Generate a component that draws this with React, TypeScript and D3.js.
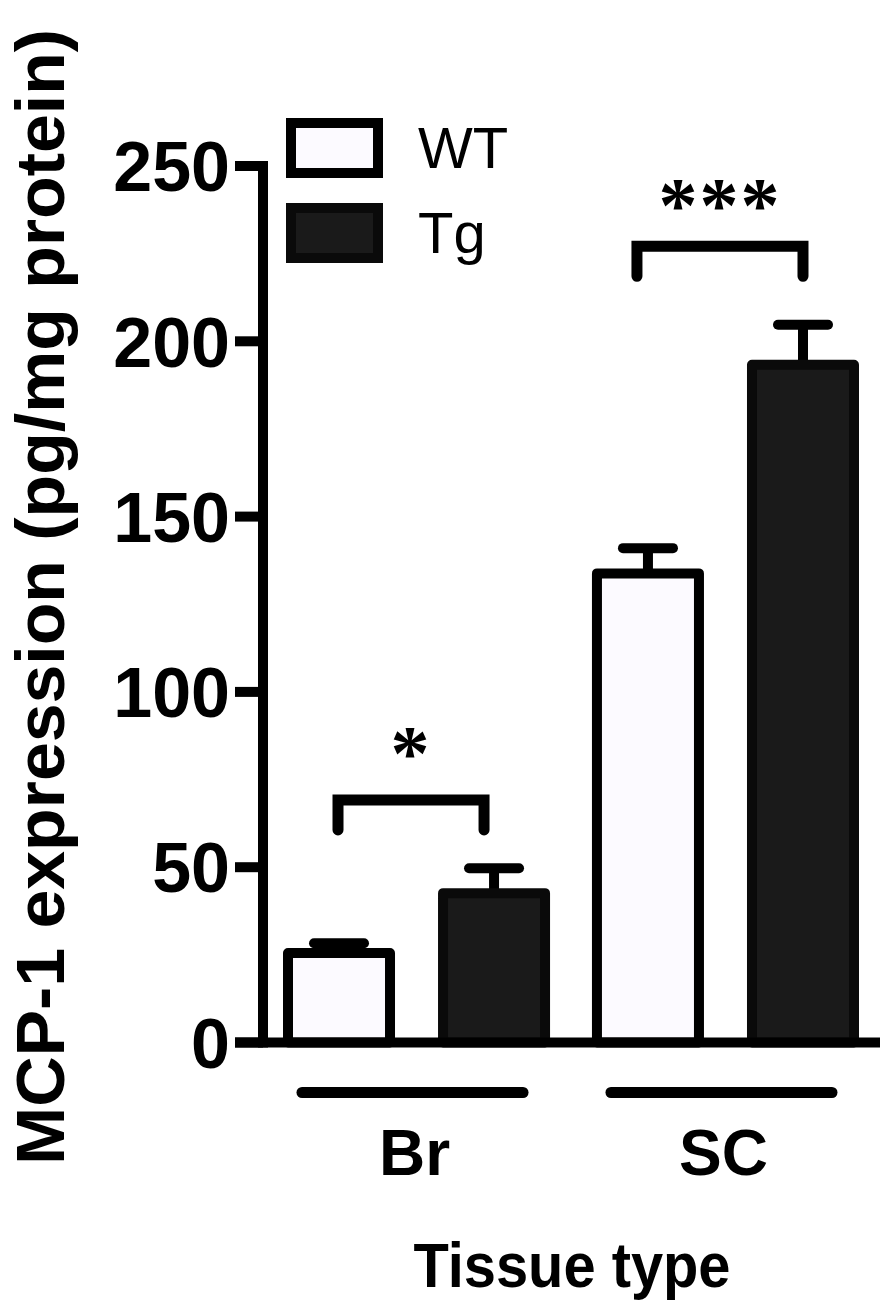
import { useEffect, useRef } from 'react';
import * as d3 from 'd3';

const categories = ['Br', 'SC'];
const groups = ['WT', 'Tg'];
const wtMeans = [25.5, 133.8];
const wtSem = [2.8, 7.2];
const tgMeans = [42.6, 193.3];
const tgSem = [7.1, 11.4];
const yTicks = [0, 50, 100, 150, 200, 250];
const sigLabels = ['*', '***'];
const bracketTop = [69.2, 227.1];
const starTop = [90.5, 247];

const W = 892;
const H = 1308;
const SW = 10;

const fills: Record<string, string> = { WT: '#fcfaff', Tg: '#1a1a1a' };
const strokes: Record<string, string> = { WT: '#000', Tg: '#0a0a0a' };

export default function App() {
  const svgRef = useRef<SVGSVGElement>(null);

  useEffect(() => {
    document.body.style.margin = '0';
    if (!svgRef.current) return;
    const svg = d3.select(svgRef.current);
    svg.selectAll('*').remove();

    const axisX = 263;
    const y = d3.scaleLinear().domain([0, 250]).range([1042.5, 166]);
    const x0 = d3.scaleBand<string>().domain(categories).range([288, 854]).paddingInner(0.168);
    const x1 = d3.scaleBand<string>().domain(groups).range([0, x0.bandwidth()]).paddingInner(0.342);

    const rows = categories.flatMap((c, i) => [
      { cat: c, grp: 'WT', mean: wtMeans[i], sem: wtSem[i] },
      { cat: c, grp: 'Tg', mean: tgMeans[i], sem: tgSem[i] },
    ]);
    const cx = (c: string, g: string) => x0(c)! + x1(g)! + x1.bandwidth() / 2;

    // error bars
    const err = svg.append('g').attr('stroke', '#000').attr('stroke-width', SW).attr('stroke-linecap', 'round');
    rows.forEach(d => {
      const x = cx(d.cat, d.grp);
      err.append('line').attr('x1', x).attr('x2', x).attr('y1', y(d.mean)).attr('y2', y(d.mean + d.sem)).attr('stroke-linecap', 'butt');
      err.append('line').attr('x1', x - 25).attr('x2', x + 25).attr('y1', y(d.mean + d.sem)).attr('y2', y(d.mean + d.sem));
    });

    // bars
    svg.append('g')
      .selectAll('rect')
      .data(rows)
      .enter()
      .append('rect')
      .attr('x', d => x0(d.cat)! + x1(d.grp)!)
      .attr('y', d => y(d.mean))
      .attr('width', x1.bandwidth())
      .attr('height', d => y(0) - y(d.mean))
      .attr('fill', d => fills[d.grp])
      .attr('stroke', d => strokes[d.grp])
      .attr('stroke-width', SW)
      .attr('stroke-linejoin', 'round');

    // axes
    const ax = svg.append('g').attr('stroke', '#000').attr('stroke-width', SW);
    ax.append('line').attr('x1', axisX).attr('x2', axisX).attr('y1', y(250) - SW / 2).attr('y2', y(0) + SW / 2);
    ax.append('line').attr('x1', 235).attr('x2', 880).attr('y1', y(0)).attr('y2', y(0));
    yTicks.forEach(t => {
      ax.append('line').attr('x1', 235).attr('x2', axisX).attr('y1', y(t)).attr('y2', y(t));
    });

    svg.append('g')
      .selectAll('text')
      .data(yTicks)
      .enter()
      .append('text')
      .attr('x', 230)
      .attr('y', d => y(d))
      .attr('dy', '0.36em')
      .attr('text-anchor', 'end')
      .attr('font-family', 'Liberation Sans, Arial, sans-serif')
      .attr('font-weight', 'bold')
      .attr('font-size', 70)
      .text(d => d);

    // y label
    svg.append('text')
      .attr('transform', 'translate(64,597) rotate(-90)')
      .attr('text-anchor', 'middle')
      .attr('font-family', 'Liberation Sans, Arial, sans-serif')
      .attr('font-weight', 'bold')
      .attr('font-size', 69)
      .attr('textLength', 1136)
      .attr('lengthAdjust', 'spacingAndGlyphs')
      .text('MCP-1 expression (pg/mg protein)');

    // category underlines + labels
    categories.forEach(c => {
      svg.append('line')
        .attr('x1', x0(c)! + 14).attr('x2', x0(c)! + x0.bandwidth() - 22)
        .attr('y1', 1092.5).attr('y2', 1092.5)
        .attr('stroke', '#000').attr('stroke-width', SW + 1).attr('stroke-linecap', 'round');
      svg.append('text')
        .attr('x', x0(c)! + x0.bandwidth() / 2 - 2)
        .attr('y', 1175)
        .attr('text-anchor', 'middle')
        .attr('font-family', 'Liberation Sans, Arial, sans-serif')
        .attr('font-weight', 'bold')
        .attr('font-size', 64)
        .text(c);
    });

    svg.append('text')
      .attr('x', 572)
      .attr('y', 1287)
      .attr('text-anchor', 'middle')
      .attr('font-family', 'Liberation Sans, Arial, sans-serif')
      .attr('font-weight', 'bold')
      .attr('font-size', 63)
      .attr('textLength', 317)
      .attr('lengthAdjust', 'spacingAndGlyphs')
      .text('Tissue type');

    // significance brackets
    categories.forEach((c, i) => {
      const xa = cx(c, 'WT') - (i === 1 ? 11 : 1);
      const xb = cx(c, 'Tg') - (i === 0 ? 10 : 0);
      const top = y(bracketTop[i]);
      svg.append('path')
        .attr('d', `M${xa},${top + 30}V${top}H${xb}V${top + 30}`)
        .attr('fill', 'none')
        .attr('stroke', '#000')
        .attr('stroke-width', SW + 1)
        .attr('stroke-linecap', 'round')
        .attr('stroke-linejoin', 'miter');
      svg.append('text')
        .attr('x', (xa + xb) / 2)
        .attr('y', y(starTop[i]) + 54)
        .attr('text-anchor', 'middle')
        .attr('font-family', 'Liberation Serif, Times New Roman, serif')
        .attr('font-weight', 'bold')
        .attr('font-size', 78)
        .attr('letter-spacing', 2)
        .text(sigLabels[i]);
    });

    // legend
    const leg = svg.append('g');
    groups.forEach((g, i) => {
      const ly = 123 + i * 85;
      leg.append('rect')
        .attr('x', 291).attr('y', ly).attr('width', 87).attr('height', 50)
        .attr('fill', fills[g]).attr('stroke', strokes[g]).attr('stroke-width', SW);
      leg.append('text')
        .attr('x', 418).attr('y', ly + 45)
        .attr('font-family', 'Liberation Sans, Arial, sans-serif')
        .attr('font-size', 58)
        .text(g);
    });
  }, []);

  return <svg ref={svgRef} width={W} height={H} style={{ display: 'block', background: '#fff' }} />;
}
